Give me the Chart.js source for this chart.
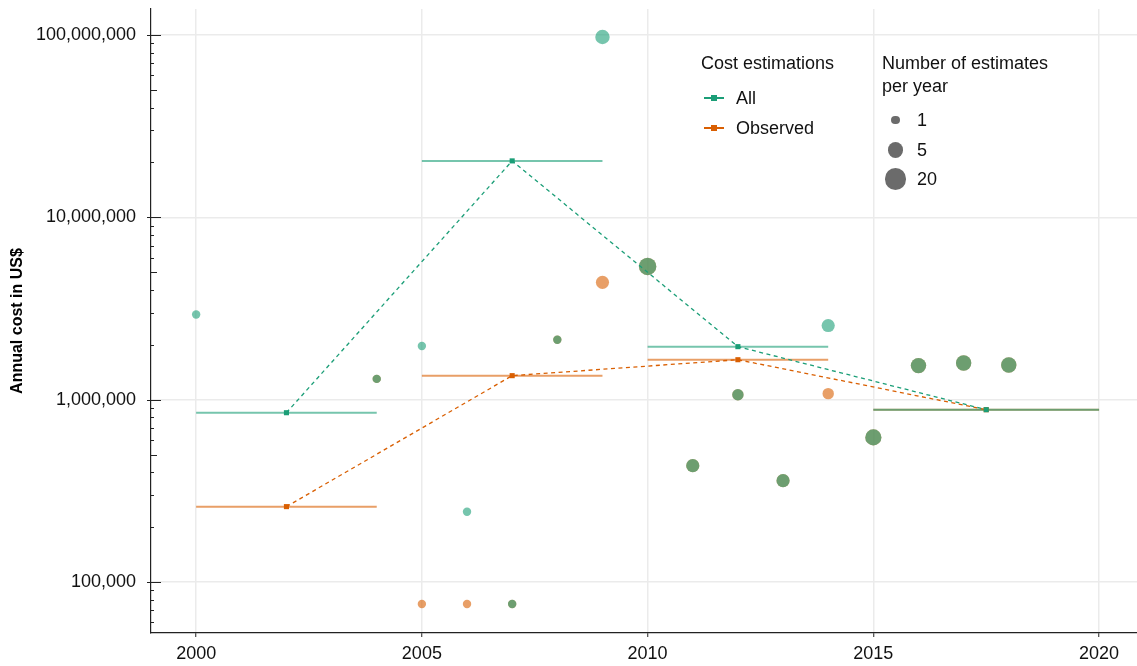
<!DOCTYPE html>
<html>
<head>
<meta charset="utf-8">
<script src="https://cdn.jsdelivr.net/npm/chart.js@4.4.1/dist/chart.umd.min.js"></script>
<style>
  html, body { margin: 0; padding: 0; background: #fff; }
  #wrap { position: relative; width: 1137px; height: 666px; }
  .lg { position: absolute; font-family: "Liberation Sans", Arial, sans-serif; font-size: 18px; color: #111; line-height: 22px; white-space: nowrap; }
  .mk { position: absolute; }
</style>
</head>
<body>
<div id="wrap">
  <canvas id="chart" width="1137" height="666"></canvas>
  <div id="legend"></div>
</div>
<script>
// yearly mean cost per estimate group
const years    = [2000, 2004, 2005, 2006, 2007, 2008, 2009, 2010, 2011, 2012, 2013, 2014, 2015, 2016, 2017, 2018];
const allCost  = [2930000, 1300000, 1970000, 243000, 75700, 2130000, 97500000, 5380000, 434600, 1065000, 359500, 2550000, 621000, 1537000, 1589000, 1550000];
const allCount = [1, 1, 1, 1, 1, 1, 4, 8, 3, 2, 3, 3, 6, 5, 5, 5];
const obsCost  = [null, 1300000, 75700, 75700, 75700, 2130000, 4400000, 5380000, 434600, 1065000, 359500, 1079000, 621000, 1537000, 1589000, 1550000];
const obsCount = [0, 1, 1, 1, 1, 1, 3, 8, 3, 2, 3, 2, 6, 5, 5, 5];

// 5-year periods
const periodStart = [2000, 2005, 2010, 2015];
const periodEnd   = [2004, 2009, 2014, 2020];
const periodMid   = [2002, 2007, 2012, 2017.5];
const medianAll   = [848000, 20400000, 1953000, 881000];
const medianObs   = [259000, 1354000, 1656000, 881000];

const xTicks = [2000, 2005, 2010, 2015, 2020];
const yTicks = [100000, 1000000, 10000000, 100000000];
const sizeBreaks = [1, 5, 20];

const TEAL = '#1b9e77', ORANGE = '#d95f02';
const TEAL_A = 'rgba(27,158,119,0.6)', ORANGE_A = 'rgba(217,95,2,0.6)';
const FONT = "'Liberation Sans', Arial, sans-serif";

function sizeOf(n) { return 4.2 + 5.0 * Math.log10(n); }

function bubbles(cost, count) {
  const out = [];
  years.forEach((yr, i) => {
    if (cost[i] != null) out.push({ x: yr, y: cost[i], r: sizeOf(count[i]) });
  });
  return out;
}

function segments(vals) {
  const out = [];
  vals.forEach((v, i) => {
    out.push({ x: periodStart[i], y: v }, { x: periodEnd[i], y: v }, { x: periodEnd[i] + 0.5, y: null });
  });
  return out;
}

function medians(vals) {
  return periodMid.map((x, i) => ({ x: x, y: vals[i] }));
}

// small tick marks on the log axis (1..9 per decade)
const axisTicks = {
  id: 'axisTicks',
  afterDraw(chart) {
    const y = chart.scales.y, ctx = chart.ctx, x0 = chart.chartArea.left;
    ctx.save();
    ctx.strokeStyle = '#222';
    ctx.lineWidth = 1;
    for (let e = 4; e <= 8; e++) {
      for (let m = 1; m <= 9; m++) {
        const v = m * Math.pow(10, e);
        if (v < y.min || v > y.max) continue;
        const py = Math.round(y.getPixelForValue(v)) + 0.5;
        let a = x0, b = x0 + 3;
        if (m === 1) { a = x0 - 4; b = x0 + 10; }
        else if (m === 5) { b = x0 + 6; }
        ctx.beginPath();
        ctx.moveTo(a, py);
        ctx.lineTo(b, py);
        ctx.stroke();
      }
    }
    ctx.restore();
  }
};

Chart.defaults.font.family = FONT;

new Chart(document.getElementById('chart'), {
  type: 'bubble',
  data: {
    datasets: [
      { type: 'line', data: medians(medianAll), borderColor: TEAL, backgroundColor: TEAL, borderWidth: 1.3,
        borderDash: [4, 3.5], pointStyle: 'rect', pointRadius: 3.6, pointBorderWidth: 0, fill: false },
      { type: 'line', data: medians(medianObs), borderColor: ORANGE, backgroundColor: ORANGE, borderWidth: 1.3,
        borderDash: [4, 3.5], pointStyle: 'rect', pointRadius: 3.6, pointBorderWidth: 0, fill: false },
      { data: bubbles(allCost, allCount), backgroundColor: TEAL_A, borderWidth: 0 },
      { data: bubbles(obsCost, obsCount), backgroundColor: ORANGE_A, borderWidth: 0 },
      { type: 'line', data: segments(medianAll), borderColor: TEAL_A, borderWidth: 2, pointRadius: 0, spanGaps: false, fill: false },
      { type: 'line', data: segments(medianObs), borderColor: ORANGE_A, borderWidth: 2, pointRadius: 0, spanGaps: false, fill: false }
    ]
  },
  options: {
    responsive: false,
    animation: false,
    events: [],
    layout: { autoPadding: false, padding: { top: 9, right: 0, left: 0, bottom: 0 } },
    plugins: { legend: { display: false }, tooltip: { enabled: false } },
    scales: {
      x: {
        type: 'linear',
        min: 1999,
        max: 2020.84,
        afterBuildTicks: s => { s.ticks = xTicks.map(v => ({ value: v })); },
        afterFit: s => { s.height = 33; s.paddingLeft = 0; s.paddingRight = 0; },
        grid: { color: '#ebebeb', lineWidth: 1.5, tickColor: '#222', tickLength: 4, tickWidth: 1 },
        border: { display: true, color: '#222', width: 1.2 },
        ticks: { color: '#111', font: { size: 18 }, padding: 6, callback: v => String(v) }
      },
      y: {
        type: 'logarithmic',
        min: 52500,
        max: 138900000,
        afterBuildTicks: s => { s.ticks = yTicks.map(v => ({ value: v })); },
        afterFit: s => { s.width = 151; s.paddingTop = 0; s.paddingBottom = 0; },
        grid: { color: '#ebebeb', lineWidth: 1.5, drawTicks: false },
        border: { display: true, color: '#222', width: 1.2 },
        ticks: { color: '#111', font: { size: 18 }, padding: 15, callback: v => Number(v).toLocaleString('en-US') },
        title: { display: true, text: 'Annual cost in US$', color: '#000', font: { size: 16, weight: 'bold' }, padding: { top: 8, bottom: 0 } }
      }
    }
  },
  plugins: [axisTicks]
});

// legends
const lg = document.getElementById('legend');
function addText(txt, left, cy) {
  const d = document.createElement('div');
  d.className = 'lg';
  d.textContent = txt;
  d.style.left = left + 'px';
  d.style.top = (cy - 11) + 'px';
  lg.appendChild(d);
}
function addBox(left, top, w, h, bg, radius) {
  const d = document.createElement('div');
  d.className = 'mk';
  Object.assign(d.style, { left: left + 'px', top: top + 'px', width: w + 'px', height: h + 'px', background: bg, borderRadius: radius || 0 });
  lg.appendChild(d);
}

addText('Cost estimations', 701, 63);
[['All', TEAL, 98], ['Observed', ORANGE, 128]].forEach(([name, col, cy]) => {
  addBox(704, cy - 1, 20, 2, col);
  addBox(711, cy - 3, 6, 6, col);
  addText(name, 736, cy);
});

addText('Number of estimates', 882, 63);
addText('per year', 882, 86);
const sizeY = [120, 150, 179];
sizeBreaks.forEach((n, i) => {
  const r = sizeOf(n);
  addBox(895.5 - r, sizeY[i] - r, 2 * r, 2 * r, 'rgba(0,0,0,0.58)', '50%');
  addText(String(n), 917, sizeY[i]);
});
</script>
</body>
</html>
